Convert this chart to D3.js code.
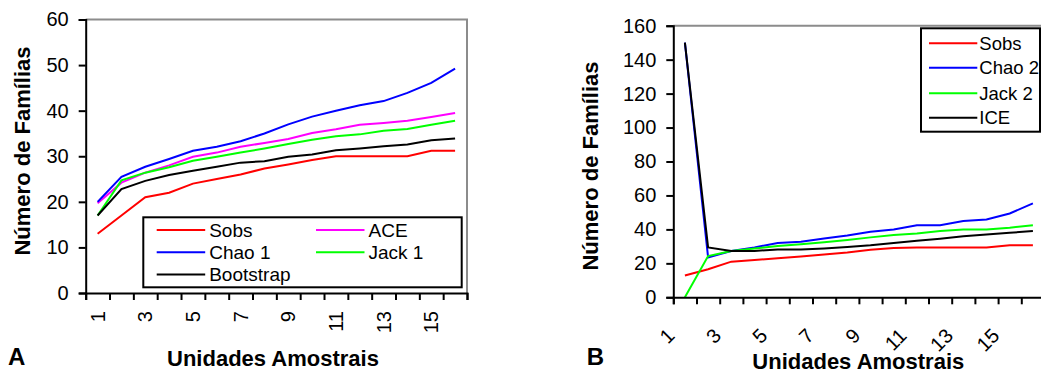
<!DOCTYPE html>
<html>
<head>
<meta charset="utf-8">
<script src="https://cdn.jsdelivr.net/npm/d3@7"></script>
<style>
  body { margin: 0; background: #fff; }
  svg { display: block; font-family: Arial, "Liberation Sans", sans-serif; }
  .tick text { font-size: 20px; fill: #000; }
</style>
</head>
<body>
<svg id="chart" width="1041" height="374"></svg>
<script>
// categories (sample units)
const unidades = [1, 2, 3, 4, 5, 6, 7, 8, 9, 10, 11, 12, 13, 14, 15, 16];

// panel A series
const sobsA = [13, 17, 21, 22, 24, 25, 26, 27.3, 28.2, 29.2, 30, 30, 30, 30, 31.2, 31.2];
const ace = [19.7, 24.2, 26.4, 28, 29.9, 30.8, 32.1, 32.9, 33.8, 35.1, 35.9, 36.9, 37.3, 37.8, 38.6, 39.5];
const chao1 = [20, 25.5, 27.7, 29.4, 31.2, 32.1, 33.3, 35, 37, 38.7, 40, 41.2, 42.1, 43.9, 46.1, 49.2];
const jack1 = [17, 24.7, 26.4, 27.6, 29, 29.9, 30.8, 31.7, 32.7, 33.6, 34.4, 34.8, 35.6, 36, 36.9, 37.8];
const bootstrap = [17, 22.8, 24.6, 25.9, 26.8, 27.7, 28.6, 28.9, 29.9, 30.4, 31.3, 31.7, 32.2, 32.6, 33.5, 33.9];

// panel B series
const sobsB = [12.8, 16.5, 21, 22, 23, 24.1, 25.2, 26.4, 28, 29, 29.3, 29.3, 29.3, 29.3, 30.6, 30.6];
const chao2 = [150, 23.5, 27.3, 29.4, 32, 32.7, 34.6, 36.4, 38.6, 40, 42.5, 42.5, 44.9, 45.9, 49.4, 55.3];
const jack2 = [0, 24.3, 27.3, 28.8, 30.2, 31.2, 32.4, 33.7, 35.3, 36.7, 37.6, 39, 40, 40, 41, 42.4];
const ice = [150, 29.4, 27.3, 27.3, 28.2, 28.2, 28.8, 29.6, 30.6, 32, 33.3, 34.5, 35.9, 37, 38, 39];

// tick values
const yTicksA = [0, 10, 20, 30, 40, 50, 60];
const yTicksB = [0, 20, 40, 60, 80, 100, 120, 140, 160];
const xLabels = [1, 3, 5, 7, 9, 11, 13, 15];

const svg = d3.select("#chart");

// DRAW ONE PANEL
function drawPanel(cfg) {
  const x = d3.scaleBand().domain(unidades).range([cfg.left, cfg.right]);
  const xi = d3.scaleLinear().domain([0, unidades.length]).range([cfg.left, cfg.right]);
  const y = d3.scaleLinear().domain([0, cfg.yMax]).range([cfg.bottom, cfg.top]);

  // plot area border (grey, top and right)
  svg.append("path")
    .attr("d", `M${cfg.left},${cfg.top}H${cfg.right}V${cfg.bottom}`)
    .attr("fill", "none")
    .attr("stroke", "#8c8c8c")
    .attr("stroke-width", 2);

  // series
  const line = d3.line()
    .x((d, i) => x(unidades[i]) + x.bandwidth() / 2)
    .y((d) => y(d));
  cfg.series.forEach((s) => {
    svg.append("path")
      .attr("d", line(s.values))
      .attr("fill", "none")
      .attr("stroke", s.color)
      .attr("stroke-width", 2);
  });

  // y axis
  const yAxis = svg.append("g")
    .attr("transform", `translate(${cfg.left},0)`)
    .call(d3.axisLeft(y).tickValues(cfg.yTicks).tickSize(7).tickPadding(10));
  yAxis.select(".domain").attr("stroke", "#000").attr("stroke-width", 2);
  yAxis.selectAll(".tick line").attr("stroke", "#000").attr("stroke-width", 2);

  // x axis ticks between categories
  const xAxis = svg.append("g")
    .attr("transform", `translate(0,${cfg.bottom})`)
    .call(d3.axisBottom(xi).tickValues(d3.range(0, unidades.length + 1)).tickSize(7).tickFormat(""));
  xAxis.select(".domain").attr("stroke", "#000").attr("stroke-width", 2);
  xAxis.selectAll(".tick line").attr("stroke", "#000").attr("stroke-width", 2);

  // x tick labels (rotated)
  svg.append("g").selectAll("text")
    .data(xLabels)
    .join("text")
    .attr("font-size", 20)
    .attr("text-anchor", "end")
    .attr("dominant-baseline", cfg.labelBaseline)
    .attr("transform", (d) => {
      const cx = x(d) + x.bandwidth() / 2;
      return `translate(${cx + cfg.labelDx},${cfg.labelY}) rotate(${cfg.labelAngle})`;
    })
    .text((d) => d);

  // axis titles
  svg.append("text")
    .attr("x", cfg.xTitleX)
    .attr("y", cfg.xTitleY)
    .attr("text-anchor", "middle")
    .attr("font-size", 22)
    .attr("font-weight", "bold")
    .text("Unidades Amostrais");

  svg.append("text")
    .attr("transform", `translate(${cfg.yTitleX},${cfg.yTitleY}) rotate(-90)`)
    .attr("text-anchor", "middle")
    .attr("font-size", 22)
    .attr("font-weight", "bold")
    .text("Número de Famílias");

  // panel letter
  svg.append("text")
    .attr("x", cfg.letterX)
    .attr("y", 365)
    .attr("font-size", 24)
    .attr("font-weight", "bold")
    .text(cfg.letter);

  // LEGEND
  const lg = cfg.legend;
  svg.append("rect")
    .attr("x", lg.x).attr("y", lg.y)
    .attr("width", lg.w).attr("height", lg.h)
    .attr("fill", "#fff")
    .attr("stroke", "#000")
    .attr("stroke-width", 2);
  lg.items.forEach((it) => {
    const s = cfg.series.find((d) => d.name === it.name);
    svg.append("line")
      .attr("x1", it.x).attr("x2", it.x + lg.lineLen)
      .attr("y1", it.y).attr("y2", it.y)
      .attr("stroke", s.color)
      .attr("stroke-width", 2);
    svg.append("text")
      .attr("x", it.x + lg.lineLen + lg.gap)
      .attr("y", it.y)
      .attr("dominant-baseline", "central")
      .attr("font-size", lg.fontSize)
      .text(it.name);
  });
}

drawPanel({
  letter: "A", letterX: 8,
  left: 85.7, right: 467, top: 19.5, bottom: 293, yMax: 60, yTicks: yTicksA,
  labelAngle: -90, labelDx: 0, labelY: 311, labelBaseline: "central",
  xTitleX: 273, xTitleY: 365.5, yTitleX: 30, yTitleY: 151,
  series: [
    { name: "Sobs", values: sobsA, color: "#ff0000" },
    { name: "ACE", values: ace, color: "#ff00ff" },
    { name: "Chao 1", values: chao1, color: "#0000ff" },
    { name: "Jack 1", values: jack1, color: "#00ff00" },
    { name: "Bootstrap", values: bootstrap, color: "#000000" }
  ],
  legend: {
    x: 143.3, y: 217.3, w: 318.4, h: 70, lineLen: 48.5, gap: 4, fontSize: 19,
    items: [
      { name: "Sobs", x: 156.7, y: 230 },
      { name: "ACE", x: 316, y: 230 },
      { name: "Chao 1", x: 156.7, y: 252.3 },
      { name: "Jack 1", x: 316, y: 252.3 },
      { name: "Bootstrap", x: 156.7, y: 274.5 }
    ]
  }
});

drawPanel({
  letter: "B", letterX: 586.7,
  left: 673.3, right: 1044.5, top: 25.7, bottom: 297.3, yMax: 160, yTicks: yTicksB,
  labelAngle: -45, labelDx: -9, labelY: 337, labelBaseline: "auto",
  xTitleX: 858.3, xTitleY: 369, yTitleX: 598, yTitleY: 166,
  series: [
    { name: "Sobs", values: sobsB, color: "#ff0000" },
    { name: "Chao 2", values: chao2, color: "#0000ff" },
    { name: "Jack 2", values: jack2, color: "#00ff00" },
    { name: "ICE", values: ice, color: "#000000" }
  ],
  legend: {
    x: 921, y: 28.3, w: 119, h: 103.4, lineLen: 48.3, gap: 2, fontSize: 18.5,
    items: [
      { name: "Sobs", x: 929, y: 43.3 },
      { name: "Chao 2", x: 929, y: 67.8 },
      { name: "Jack 2", x: 929, y: 93.3 },
      { name: "ICE", x: 929, y: 117.7 }
    ]
  }
});
</script>
</body>
</html>
